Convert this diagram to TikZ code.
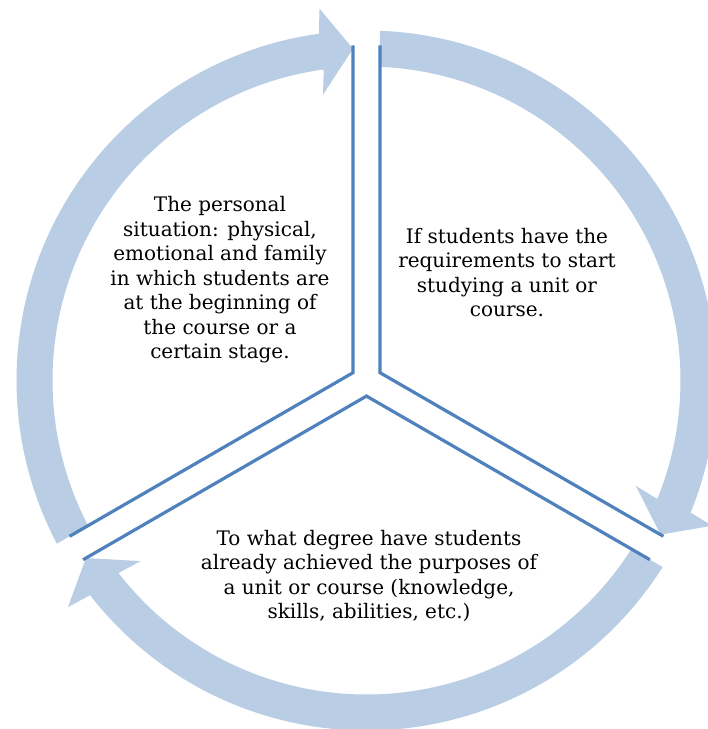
\documentclass[tikz,border=0pt]{standalone}
\usepackage{fontspec}
\setmainfont{DejaVu Serif}
\usetikzlibrary{calc}
\definecolor{ringblue}{RGB}{185,205,229}
\definecolor{lineblue}{RGB}{79,129,189}

\begin{document}
\begin{tikzpicture}[x=1pt, y=1pt,
 band/.style={fill=ringblue, draw=none},
 divider/.style={draw=lineblue, line width=3.2pt},
 cyctext/.style={align=center, font=\fontsize{20}{24.5}\selectfont, inner sep=0pt}]
\useasboundingbox (-366.5,-348.5) rectangle (341.5,380.5);
% three arrow bands, each running clockwise over one third of the ring
\foreach \g in {90,-30,-150}{
 \pgfmathsetmacro{\tip}{\g-120+2.33}
 \pgfmathsetmacro{\base}{\g-120+7.83}
 \fill[band] ({\g-2.21}:350pt) arc[start angle={\g-2.21}, end angle=\base, radius=350pt]
   -- ($(\base:332pt)+(\tip:43pt)$) -- (\tip:332pt) -- ($(\base:332pt)-(\tip:43pt)$) -- (\base:314pt)
   arc[start angle=\base, end angle={\g-2.46}, radius=314pt] -- cycle;
}
% the Y-shaped dividers
\coordinate (jab) at (13.5,7.79);
\coordinate (jbc) at (0,-15.59);
\coordinate (jca) at (-13.5,7.79);
\coordinate (atopl) at (-13.5,335);
\coordinate (atopr) at (13.5,335);
\coordinate (bup) at (296.9,-155.8);
\coordinate (blow) at (283.4,-179.2);
\coordinate (cup) at (-296.9,-155.8);
\coordinate (clow) at (-283.4,-179.2);
\draw[divider] (atopr) -- (jab) -- (bup);
\draw[divider] (blow) -- (jbc) -- (clow);
\draw[divider] (cup) -- (jca) -- (atopl);
% texts
\node[cyctext] (personal) at (-146.5,100.5) {The personal\\situation: physical,\\emotional and family\\in which students are\\at the beginning of\\the course or a\\certain stage.};
\node[cyctext] (require) at (140.5,108) {If students have the\\requirements to start\\studying a unit or\\course.};
\node[cyctext] (degree) at (2.5,-195.5) {To what degree have students\\already achieved the purposes of\\a unit or course (knowledge,\\skills, abilities, etc.)};
\end{tikzpicture}
\end{document}
